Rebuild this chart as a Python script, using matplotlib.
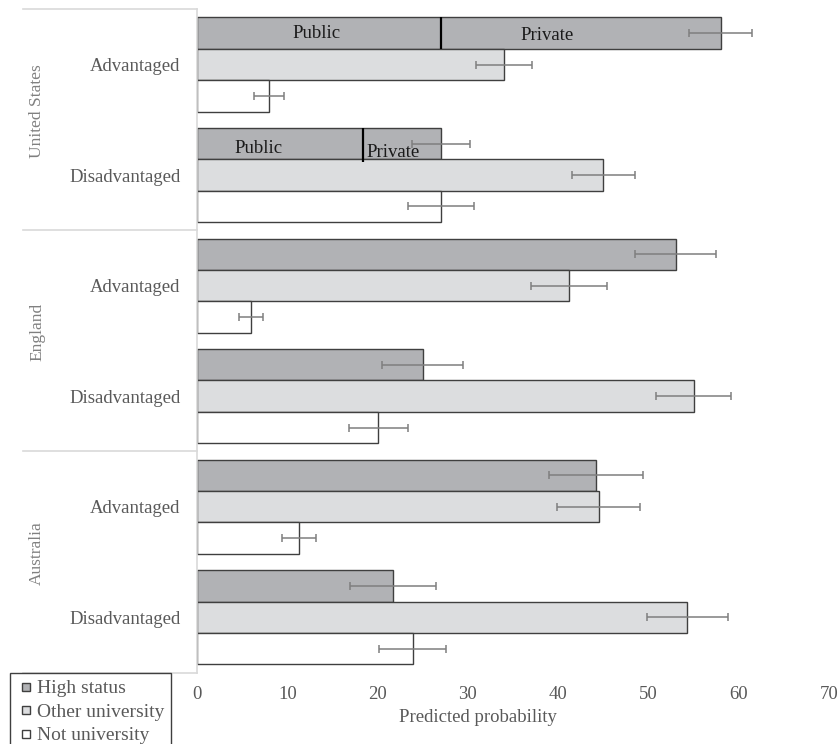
import matplotlib
matplotlib.use("Agg")
import matplotlib.pyplot as plt
from matplotlib.lines import Line2D
import matplotlib.transforms as mtransforms

plt.rcParams['font.family'] = ['Liberation Serif', 'DejaVu Serif']

# ---- data ----
countries = ["United States", "England", "Australia"]
groups = ["Advantaged", "Disadvantaged"]
series = ["High status", "Other university", "Not university"]

high = [58.0, 27.0, 53.0, 25.0, 44.2, 21.7]
high_err = [3.5, 3.2, 4.5, 4.5, 5.2, 4.8]
other = [34.0, 45.0, 41.2, 55.0, 44.5, 54.3]
other_err = [3.1, 3.5, 4.2, 4.2, 4.6, 4.5]
notuni = [8.0, 27.0, 6.0, 20.1, 11.3, 23.9]
notuni_err = [1.65, 3.65, 1.3, 3.3, 1.9, 3.7]
us_public = [27.0, 18.35]          # public part of US high-status bars
seg_labels = ["Public", "Private"]
xticks = [0, 10, 20, 30, 40, 50, 60, 70]

# ---- style ----
colors = ["#b1b2b5", "#dcdddf", "#ffffff"]
edge = "#3f3f3f"
errc = "#7f7f7f"
txtc = "#595959"
sepc = "#d9d9d9"
fs = 13.5

W, H = 838, 744
fig = plt.figure(figsize=(W / 100, H / 100), dpi=100)
ax_left, ax_right = 197, 829
ax_top, ax_bot = 9.3, 672.5
ax = fig.add_axes([ax_left / W, (H - ax_bot) / H, (ax_right - ax_left) / W, (ax_bot - ax_top) / H])

h = 0.284
n = len(high)
vals = [high, other, notuni]
errs = [high_err, other_err, notuni_err]
for j in range(3):
    ys = [i + 0.5 + (j - 1) * h for i in range(n)]
    ax.barh(ys, vals[j], height=h, color=colors[j], edgecolor=edge, linewidth=1.0, zorder=2)
    ax.errorbar(vals[j], ys, xerr=errs[j], fmt='none', ecolor=errc, elinewidth=1.1,
                capsize=2.6, capthick=1.1, zorder=3)

# US public / private split
pub_frac = [0.49, 0.37]
priv_frac = [0.38, 0.39]
pub_dy = [0, -3.2]
priv_dy = [-1.5, -6.0]
for k in range(2):
    yc = k + 0.5 - h
    ext = 0.0 if k == 0 else 0.025
    ax.vlines(us_public[k], yc - h / 2, yc + h / 2 + ext, colors='black', linewidth=1.6, zorder=4)
    ax.annotate(seg_labels[0], (us_public[k] * pub_frac[k], yc), xytext=(0, pub_dy[k]),
                textcoords='offset points', ha='center', va='center', fontsize=fs, color='#1a1a1a', zorder=5)
    ax.annotate(seg_labels[1], (us_public[k] + (high[k] - us_public[k]) * priv_frac[k], yc),
                xytext=(0, priv_dy[k]), textcoords='offset points', ha='center', va='center',
                fontsize=fs, color='#1a1a1a', zorder=5)

ax.set_xlim(0, 70)
ax.set_ylim(n, 0)
ax.set_xticks(xticks)
ax.set_xticklabels([str(t) for t in xticks])
ax.set_yticks([i + 0.5 for i in range(n)])
ax.set_yticklabels(groups * len(countries))
ax.tick_params(axis='x', length=0, pad=10, labelsize=fs, labelcolor=txtc)
ax.tick_params(axis='y', length=0, pad=12, labelsize=fs, labelcolor=txtc)
for s in ['top', 'right', 'bottom']:
    ax.spines[s].set_visible(False)
ax.spines['left'].set_color(sepc)
ax.spines['left'].set_linewidth(1.2)

ax.set_xlabel("Predicted probability", fontsize=fs, color=txtc)
ax.xaxis.label.set_va('center')
ax.xaxis.set_label_coords(0.445, -0.068)

# country separators and labels
trans = mtransforms.blended_transform_factory(ax.transAxes, ax.transData)
x0 = (23 - ax_left) / (ax_right - ax_left)
for c in range(len(countries) + 1):
    ax.plot([x0, 0], [2 * c, 2 * c], transform=trans, color=sepc, lw=1.2, clip_on=False, zorder=1)
xc = (37 - ax_left) / (ax_right - ax_left)
for c, name in enumerate(countries):
    ax.text(xc, 2 * c + 1 - 0.08, name, transform=trans, rotation=90, ha='center', va='center',
            fontsize=fs - 1, color="#808080")

# legend
handles = [Line2D([], [], marker='s', ls='none', markerfacecolor=colors[j], markeredgecolor=edge,
                  markeredgewidth=1.0, markersize=6.2) for j in range(3)]
leg = fig.legend(handles, series, loc='upper left', bbox_to_anchor=(10 / W, (H - 673) / H),
                 frameon=True, fancybox=False, edgecolor=edge, framealpha=1, fontsize=14,
                 handlelength=0.9, handletextpad=0.15, borderpad=0.35, labelspacing=0.3,
                 borderaxespad=0)
leg.get_frame().set_linewidth(1.0)
for t in leg.get_texts():
    t.set_color(txtc)

fig.savefig("out.png", dpi=100)
